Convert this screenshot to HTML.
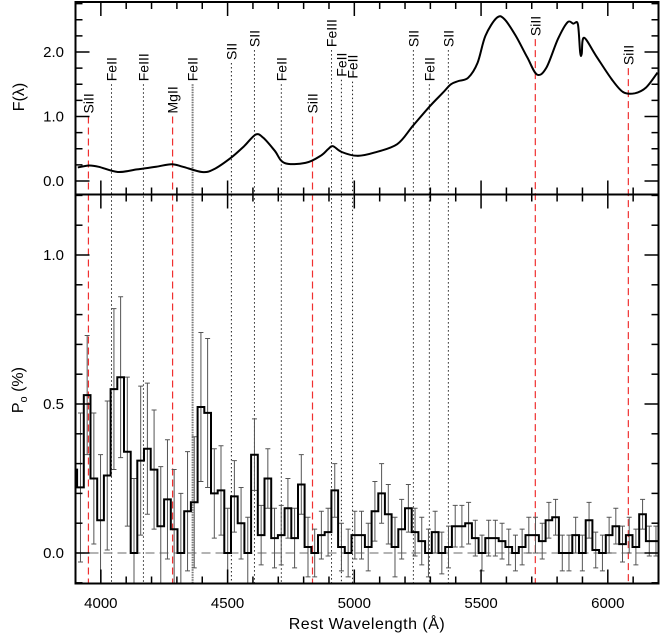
<!DOCTYPE html>
<html><head><meta charset="utf-8"><style>
body{margin:0;background:#fff;}
svg{display:block;font-family:"Liberation Sans",sans-serif;}
</style></head><body>
<svg id="chart" width="660" height="642" viewBox="0 0 660 642" xmlns="http://www.w3.org/2000/svg"></svg>
<script>
// ---- data ----
const specWave = [3909,3954,3992,4067,4143,4218,4279,4324,4399,4445,4513,4565,4611,4641,4686,4724,4807,4867,4898,4916,4950,5011,5079,5169,5230,5298,5350,5381,5411,5449,5486,5517,5562,5592,5637,5683,5721,5758,5803,5841,5864,5882,5891,5897,5906,5954,6015,6060,6106,6151,6196];
const specFlux = [0.21,0.24,0.22,0.14,0.18,0.22,0.26,0.22,0.14,0.18,0.36,0.54,0.72,0.67,0.47,0.28,0.28,0.39,0.50,0.54,0.45,0.39,0.44,0.57,0.85,1.16,1.37,1.50,1.55,1.60,1.83,2.25,2.53,2.51,2.25,1.91,1.65,1.76,2.20,2.46,2.44,2.43,1.99,1.97,2.22,1.94,1.58,1.38,1.36,1.45,1.68];
const binStart = 3880;
const binWidth = 26.4;
const polValues = [0.28,0.22,0.53,0.25,0.11,0.26,0.55,0.59,0.34,0,0.31,0.35,0.28,0.09,0.18,0.08,0,0.14,0.17,0.49,0.47,0.20,0.21,0,0.19,0.10,0,0.33,0.06,0.25,0.05,0.06,0.15,0.05,0.23,0.02,0,0.06,0.07,0.21,0.02,0,0.06,0.06,
0.02,0.14,0.20,0.13,0.02,0.08,0.15,0.07,0.04,0,0.07,0,0.02,0.09,0.09,0.10,0.05,0,0.05,0.05,0.04,0.02,0,0.02,0.06,0.06,0.04,0.11,0.12,0,0,0.06,0,0.11,0.01,0,0.06,0.09,0.03,0.06,0.02,0.13,0.04,0.04];
const polErrors = [0.22,0.25,0.2,0.22,0.22,0.25,0.27,0.27,0.25,0.25,0.25,0.22,0.2,0.2,0.2,0.2,0.2,0.2,0.22,0.25,0.25,0.15,0.15,0.15,0.12,0.12,0.12,0.12,0.1,0.1,0.1,0.1,0.1,0.1,0.1,0.1,0.08,0.08,0.08,0.09,0.08,0.08,0.08,0.08,0.08,0.1,0.1,0.1,0.1,0.1,0.08,0.08,0.08,0.08,0.07,0.07,0.07,0.07,0.07,0.07,0.06,0.06,0.06,0.06,0.06,0.06,0.06,0.06,0.06,0.06,0.06,0.06,0.06,0.06,0.06,0.06,0.06,0.06,0.06,0.06,0.06,0.06,0.06,0.06,0.06,0.05,0.05,0.05];
const lineWave = [3951,4042,4168,4283,4362,4515,4606,4712,4835,4910,4949,4993,5233,5296,5371,5714,6081];
const lineNames = ["SiII","FeII","FeIII","MgII","FeII","SII","SII","FeII","SiII","FeIII","FeII","FeII","SII","FeII","SII","SiII","SiII"];
const lineKinds = ["red","dot","dot","red","dense","dot","dot","dot","red","dot","dot","dot","dot","dot","dot","red","red"];
const lineTopFlux = [1.0,1.5,1.5,1.0,1.5,1.83,2.03,1.5,1.0,2.03,1.57,1.54,2.03,1.5,2.03,2.2,1.75];
const xTicks = [4000,4500,5000,5500,6000];
const topTicks = [0.0,1.0,2.0];
const botTicks = [0.0,0.5,1.0];

// ---- scales ----
const L=75.5, R=658.5, T=2, MID=194.5, B=583.5;
const xs = w => L + (w-3900)*(R-L)/2300;
const yTop = f => 181 - f*64.5;
const yBot = p => 553 - p*298;
const svg = document.getElementById('chart');
const NS='http://www.w3.org/2000/svg';
function mk(tag, attrs, parent){const e=document.createElementNS(NS,tag);for(const k in attrs)e.setAttribute(k,attrs[k]);(parent||svg).appendChild(e);return e;}

const defs=mk('defs',{});
const c1=mk('clipPath',{id:'ct'},defs); mk('rect',{x:L,y:T,width:R-L,height:MID-T},c1);
const c2=mk('clipPath',{id:'cb'},defs); mk('rect',{x:L,y:MID,width:R-L,height:B-MID},c2);

// identification lines
const gl=mk('g',{});


lineWave.forEach((w,i)=>{
  const x=xs(w), y0=yTop(lineTopFlux[i]);
  const k=lineKinds[i];
  const st = k==='red'?{stroke:'#f03030','stroke-dasharray':'7,4','stroke-width':1.2}:
             k==='dense'?{stroke:'#777','stroke-dasharray':'1.5,1','stroke-width':2}:
             {stroke:'#222','stroke-dasharray':'1.5,2.5','stroke-width':1};
  const ln=mk('line',Object.assign({x1:x,x2:x,y1:y0,y2:B},st),gl);
  
  
  const tx=mk('text',{x:0,y:0,'font-size':14,transform:`translate(${x+5},${y0-3}) rotate(-90)`,fill:'#000'},gl);
  tx.textContent=lineNames[i];
  
  
});

const zl=mk('line',{x1:L,x2:R,y1:yBot(0),y2:yBot(0),stroke:'#888','stroke-dasharray':'9,5','stroke-width':1.2});



// spectrum (smoothed Catmull-Rom)
const pts=specWave.map((w,i)=>[xs(w),yTop(specFlux[i])]);
let d='M'+pts[0][0].toFixed(1)+','+pts[0][1].toFixed(1);
for(let i=0;i<pts.length-1;i++){
  const p0=pts[Math.max(0,i-1)],p1=pts[i],p2=pts[i+1],p3=pts[Math.min(pts.length-1,i+2)];
  const c1x=p1[0]+(p2[0]-p0[0])/6,c1y=p1[1]+(p2[1]-p0[1])/6;
  const c2x=p2[0]-(p3[0]-p1[0])/6,c2y=p2[1]-(p3[1]-p1[1])/6;
  d+=`C${c1x.toFixed(1)},${c1y.toFixed(1)} ${c2x.toFixed(1)},${c2y.toFixed(1)} ${p2[0].toFixed(1)},${p2[1].toFixed(1)}`;
}
const sp=mk('path',{d:d,fill:'none',stroke:'#000','stroke-width':2,'stroke-linejoin':'round','clip-path':'url(#ct)'});



// error bars
const ge=mk('g',{'clip-path':'url(#cb)'});


polValues.forEach((v,i)=>{
  const xc=xs(binStart+(i+0.5)*binWidth);
  const y1=yBot(v-polErrors[i]), y2=yBot(v+polErrors[i]);
  const e=mk('path',{d:`M${xc},${y1}V${y2}M${xc-2.5},${y1}H${xc+2.5}M${xc-2.5},${y2}H${xc+2.5}`,stroke:'#555','stroke-width':1,fill:'none'},ge);
  
  
});
let h='';
polValues.forEach((v,i)=>{
  const x0=xs(binStart+i*binWidth), x1=xs(binStart+(i+1)*binWidth), y=yBot(v);
  h+=(i?'L':'M')+x0.toFixed(1)+','+y.toFixed(1)+'L'+x1.toFixed(1)+','+y.toFixed(1);
});
const hp=mk('path',{d:h,fill:'none',stroke:'#000','stroke-width':2,'clip-path':'url(#cb)'});



// frames and ticks
const ax=mk('g',{stroke:'#000',fill:'none'});


mk('rect',{x:L,y:T,width:R-L,height:B-T,'stroke-width':2},ax);
mk('line',{x1:L,x2:R,y1:MID,y2:MID,'stroke-width':2},ax);
for(let w=3900;w<=6200;w+=100){
  const x=xs(w), big=(w%500===0);
  const len=big?14:7;
  [[T,1],[MID,-1],[MID,1],[B,-1]].forEach(([y,s])=>mk('line',{x1:x,x2:x,y1:y,y2:y+s*len,'stroke-width':1.5},ax));
}
for(let f=0;f<=2.75;f+=0.25){const y=yTop(f),big=Math.abs(f-Math.round(f))<1e-6;const len=big?14:7;
  mk('line',{x1:L,x2:L+len,y1:y,y2:y,'stroke-width':1.5},ax);mk('line',{x1:R,x2:R-len,y1:y,y2:y,'stroke-width':1.5},ax);}
for(let p=-0.1;p<=1.2;p+=0.1){const y=yBot(p),big=Math.abs(p*2-Math.round(p*2))<1e-6;const len=big?14:7;
  mk('line',{x1:L,x2:L+len,y1:y,y2:y,'stroke-width':1.5},ax);mk('line',{x1:R,x2:R-len,y1:y,y2:y,'stroke-width':1.5},ax);}

xTicks.forEach(w=>{const t=mk('text',{x:xs(w),y:608,'font-size':15,'text-anchor':'middle'});t.textContent=w;
  
  });
topTicks.forEach(f=>{const t=mk('text',{x:64,y:yTop(f)+5,'font-size':15,'text-anchor':'end'});t.textContent=f.toFixed(1);
  
  });
botTicks.forEach(p=>{const t=mk('text',{x:64,y:yBot(p)+5,'font-size':15,'text-anchor':'end'});t.textContent=p.toFixed(1);
  
  });
</script>
<div style="position:absolute;left:0;top:0;width:660px;height:642px;pointer-events:none;font-family:'Liberation Sans',sans-serif;">
  <div style="position:absolute;left:0;width:734px;top:616px;text-align:center;font-size:16px;letter-spacing:0.5px;">Rest Wavelength (Å)</div>
  <div style="position:absolute;left:-30px;top:88px;width:100px;text-align:center;font-size:16px;transform:rotate(-90deg);">F(λ)</div>
  <div style="position:absolute;left:-30px;top:380px;width:100px;text-align:center;font-size:16px;transform:rotate(-90deg);">P<sub style="font-size:11px">o</sub> (%)</div>
</div>
</body></html>
